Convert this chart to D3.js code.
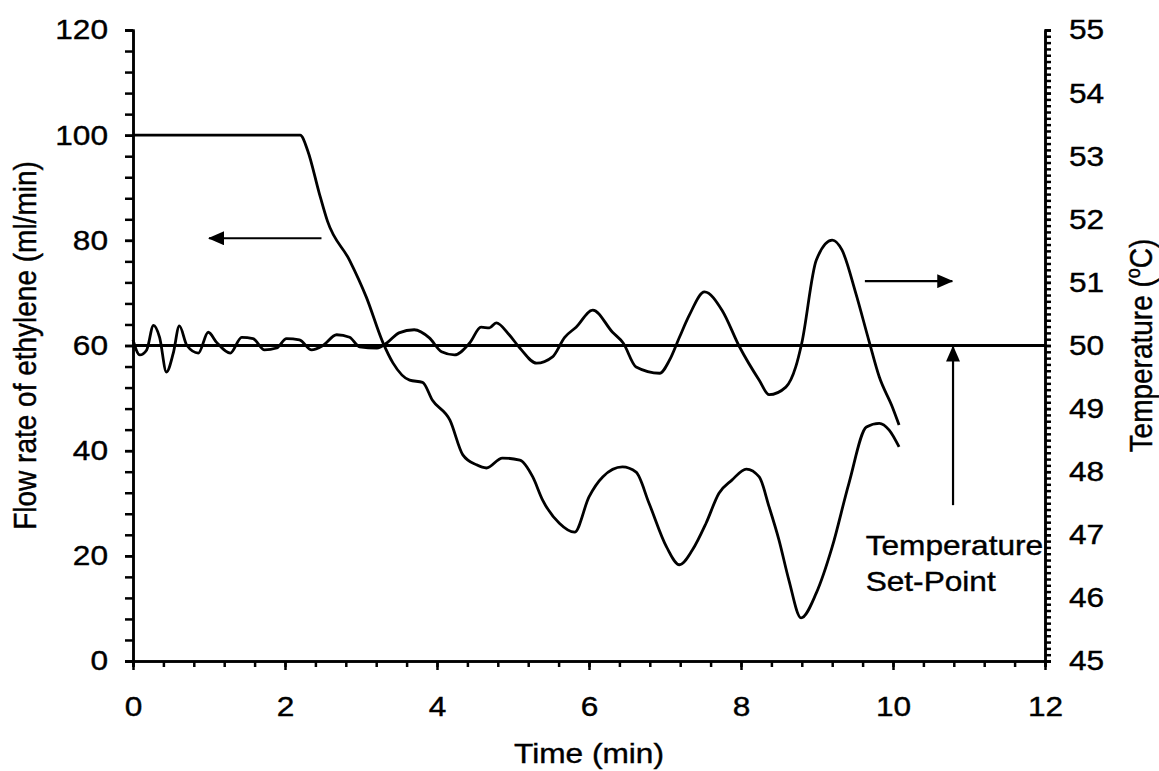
<!DOCTYPE html>
<html>
<head>
<meta charset="utf-8">
<script src="https://cdn.jsdelivr.net/npm/d3@7"></script>
<style>
  body { margin: 0; background: #fff; }
  text { font-family: "Liberation Sans", Arial, sans-serif; fill: #000; stroke: #000; stroke-width: 0.4px; }
</style>
</head>
<body>
<div id="chart-area"></div>
<script>
// flow rate of ethylene (left axis)
var flowTime = [0, 2.2, 2.3, 2.45, 2.56, 2.85, 3.07, 3.29, 3.42, 3.64, 3.81, 3.94, 4.17, 4.34, 4.52, 4.65, 4.86, 5.09, 5.26, 5.39, 5.61, 5.81, 6.0, 6.18, 6.44, 6.62, 6.79, 7.02, 7.19, 7.36, 7.54, 7.71, 7.88, 8.07, 8.24, 8.37, 8.5, 8.63, 8.79, 8.99, 9.2, 9.42, 9.65, 9.82, 9.95, 10.08];
var flowRate = [100, 100, 97, 89, 83.6, 76.2, 69.2, 60.5, 56.7, 53.4, 53.0, 49.6, 45.8, 39.2, 37.3, 36.7, 38.6, 38.2, 35.0, 30.6, 26.2, 24.5, 31.2, 35.0, 36.9, 35.9, 30.0, 21.7, 18.3, 21.1, 26.2, 31.9, 34.4, 36.5, 35.0, 29.3, 23.0, 15.4, 8.2, 12.9, 21.7, 33.8, 44.5, 45.2, 43.9, 40.7];

// reactor temperature (right axis)
var tempTime = [0, 0.09, 0.18, 0.27, 0.35, 0.44, 0.53, 0.61, 0.71, 0.86, 0.99, 1.10, 1.28, 1.43, 1.58, 1.73, 1.89, 2.02, 2.19, 2.35, 2.50, 2.68, 2.85, 2.98, 3.21, 3.34, 3.50, 3.70, 3.90, 4.06, 4.23, 4.43, 4.58, 4.69, 4.78, 4.95, 5.09, 5.31, 5.52, 5.68, 5.83, 6.05, 6.31, 6.45, 6.62, 6.93, 7.06, 7.19, 7.32, 7.52, 7.75, 7.98, 8.24, 8.37, 8.59, 8.72, 8.80, 8.99, 9.20, 9.33, 9.51, 9.68, 9.82, 9.99, 10.08];
var temps = [50.09, 49.85, 49.93, 50.32, 50.13, 49.58, 49.88, 50.31, 50.0, 49.88, 50.21, 50.05, 49.88, 50.13, 50.11, 49.93, 49.96, 50.11, 50.09, 49.93, 50.0, 50.17, 50.13, 49.98, 49.96, 50.04, 50.2, 50.25, 50.12, 49.9, 49.85, 50.04, 50.29, 50.28, 50.36, 50.17, 49.96, 49.72, 49.82, 50.13, 50.29, 50.56, 50.21, 50.04, 49.66, 49.56, 49.77, 50.13, 50.48, 50.85, 50.56, 49.98, 49.45, 49.22, 49.34, 49.66, 50.04, 51.35, 51.67, 51.51, 50.83, 50.09, 49.5, 49.03, 48.74];

var setPoint = 50;
var timeTicks = [0, 2, 4, 6, 8, 10, 12];
var flowTicks = [0, 20, 40, 60, 80, 100, 120];
var tempTicks = [45, 46, 47, 48, 49, 50, 51, 52, 53, 54, 55];

var width = 1159, height = 771;
var stretch = 1.13;   // the original figure is a bit wider than tall

var svg = d3.select("#chart-area").append("svg")
    .attr("width", width)
    .attr("height", height);

var x = d3.scaleLinear().domain([0, 12]).range([133, 1045]);
var yFlow = d3.scaleLinear().domain([0, 120]).range([661, 30]);
var yTemp = d3.scaleLinear().domain([45, 55]).range([661, 30]);

function widen(sel) {
    sel.each(function() {
        var t = d3.select(this);
        var tx = +t.attr("x") || 0;
        t.attr("x", 0).attr("transform", "translate(" + tx + ",0) scale(" + stretch + ",1)");
    });
}

function styleAxis(g) {
    g.selectAll("path, line").attr("stroke", "#000").attr("stroke-width", 2.5);
    g.selectAll("text").style("font-size", "28px").style("font-family", "Liberation Sans, Arial, sans-serif");
    widen(g.selectAll("text"));
}

// minor ticks
svg.append("g").attr("transform", "translate(0,661)")
    .call(d3.axisBottom(x).tickValues(d3.range(0, 12.01, 0.4)).tickSize(6).tickFormat(""))
    .call(styleAxis);
svg.append("g").attr("transform", "translate(133,0)")
    .call(d3.axisLeft(yFlow).tickValues(d3.range(0, 121, 4)).tickSize(8).tickFormat(""))
    .call(styleAxis);
svg.append("g").attr("transform", "translate(1045,0)")
    .call(d3.axisRight(yTemp).tickValues(d3.range(450, 551, 1).map(d => d / 10)).tickSize(6).tickFormat(""))
    .call(styleAxis);

// major ticks with labels
svg.append("g").attr("transform", "translate(0,661)")
    .call(d3.axisBottom(x).tickValues(timeTicks).tickSize(9).tickPadding(26).tickSizeOuter(0))
    .call(styleAxis);
svg.append("g").attr("transform", "translate(133,0)")
    .call(d3.axisLeft(yFlow).tickValues(flowTicks).tickSize(8).tickPadding(17).tickSizeOuter(0))
    .call(styleAxis);
svg.append("g").attr("transform", "translate(1045,0)")
    .call(d3.axisRight(yTemp).tickValues(tempTicks).tickSize(6).tickPadding(18).tickSizeOuter(0))
    .call(styleAxis);

// set-point line
svg.append("line")
    .attr("x1", x(0)).attr("x2", x(12))
    .attr("y1", yTemp(setPoint)).attr("y2", yTemp(setPoint))
    .attr("stroke", "#000").attr("stroke-width", 3);

var flowLine = d3.line()
    .x((d, i) => x(flowTime[i]))
    .y(d => yFlow(d))
    .curve(d3.curveMonotoneX);

var tempLine = d3.line()
    .x((d, i) => x(tempTime[i]))
    .y(d => yTemp(d))
    .curve(d3.curveMonotoneX);

svg.append("path").datum(flowRate)
    .attr("d", flowLine)
    .attr("fill", "none").attr("stroke", "#000").attr("stroke-width", 2.8);

svg.append("path").datum(temps)
    .attr("d", tempLine)
    .attr("fill", "none").attr("stroke", "#000").attr("stroke-width", 2.8);

// arrows
svg.append("defs").append("marker")
    .attr("id", "head")
    .attr("viewBox", "0 0 16 14")
    .attr("refX", 15).attr("refY", 7)
    .attr("markerWidth", 16).attr("markerHeight", 14)
    .attr("markerUnits", "userSpaceOnUse")
    .attr("orient", "auto")
    .append("path").attr("d", "M0,0L16,7L0,14Z").attr("fill", "#000");

function arrow(x1, y1, x2, y2) {
    svg.append("line")
        .attr("x1", x1).attr("y1", y1).attr("x2", x2).attr("y2", y2)
        .attr("stroke", "#000").attr("stroke-width", 2.2)
        .attr("marker-end", "url(#head)");
}
arrow(x(2.48), yFlow(80.4), x(1.0), yFlow(80.4));
arrow(x(9.63), yTemp(51.02), x(10.78), yTemp(51.02));
arrow(x(10.79), yTemp(47.47), x(10.79), yTemp(setPoint) + 1);

var note = svg.append("g");
note.append("text").attr("x", x(9.64)).attr("y", 555)
    .style("font-size", "28px").text("Temperature");
note.append("text").attr("x", x(9.64)).attr("y", 591)
    .style("font-size", "28px").text("Set-Point");
widen(note.selectAll("text"));

// axis titles
var xt = svg.append("text")
    .attr("x", x(6)).attr("y", 763)
    .attr("text-anchor", "middle")
    .style("font-size", "28px")
    .text("Time (min)");
widen(xt);

svg.append("text")
    .attr("transform", "translate(36," + yFlow(60) + ") rotate(-90) scale(1," + stretch + ")")
    .attr("text-anchor", "middle")
    .style("font-size", "28px")
    .text("Flow rate of ethylene (ml/min)");

var tt = svg.append("text")
    .attr("transform", "translate(1152," + yTemp(50) + ") rotate(-90) scale(1," + stretch + ")")
    .attr("text-anchor", "middle")
    .style("font-size", "28px");
tt.append("tspan").text("Temperature (");
tt.append("tspan").attr("dy", -11).style("font-size", "18px").text("o");
tt.append("tspan").attr("dy", 11).text("C)");
</script>
</body>
</html>
